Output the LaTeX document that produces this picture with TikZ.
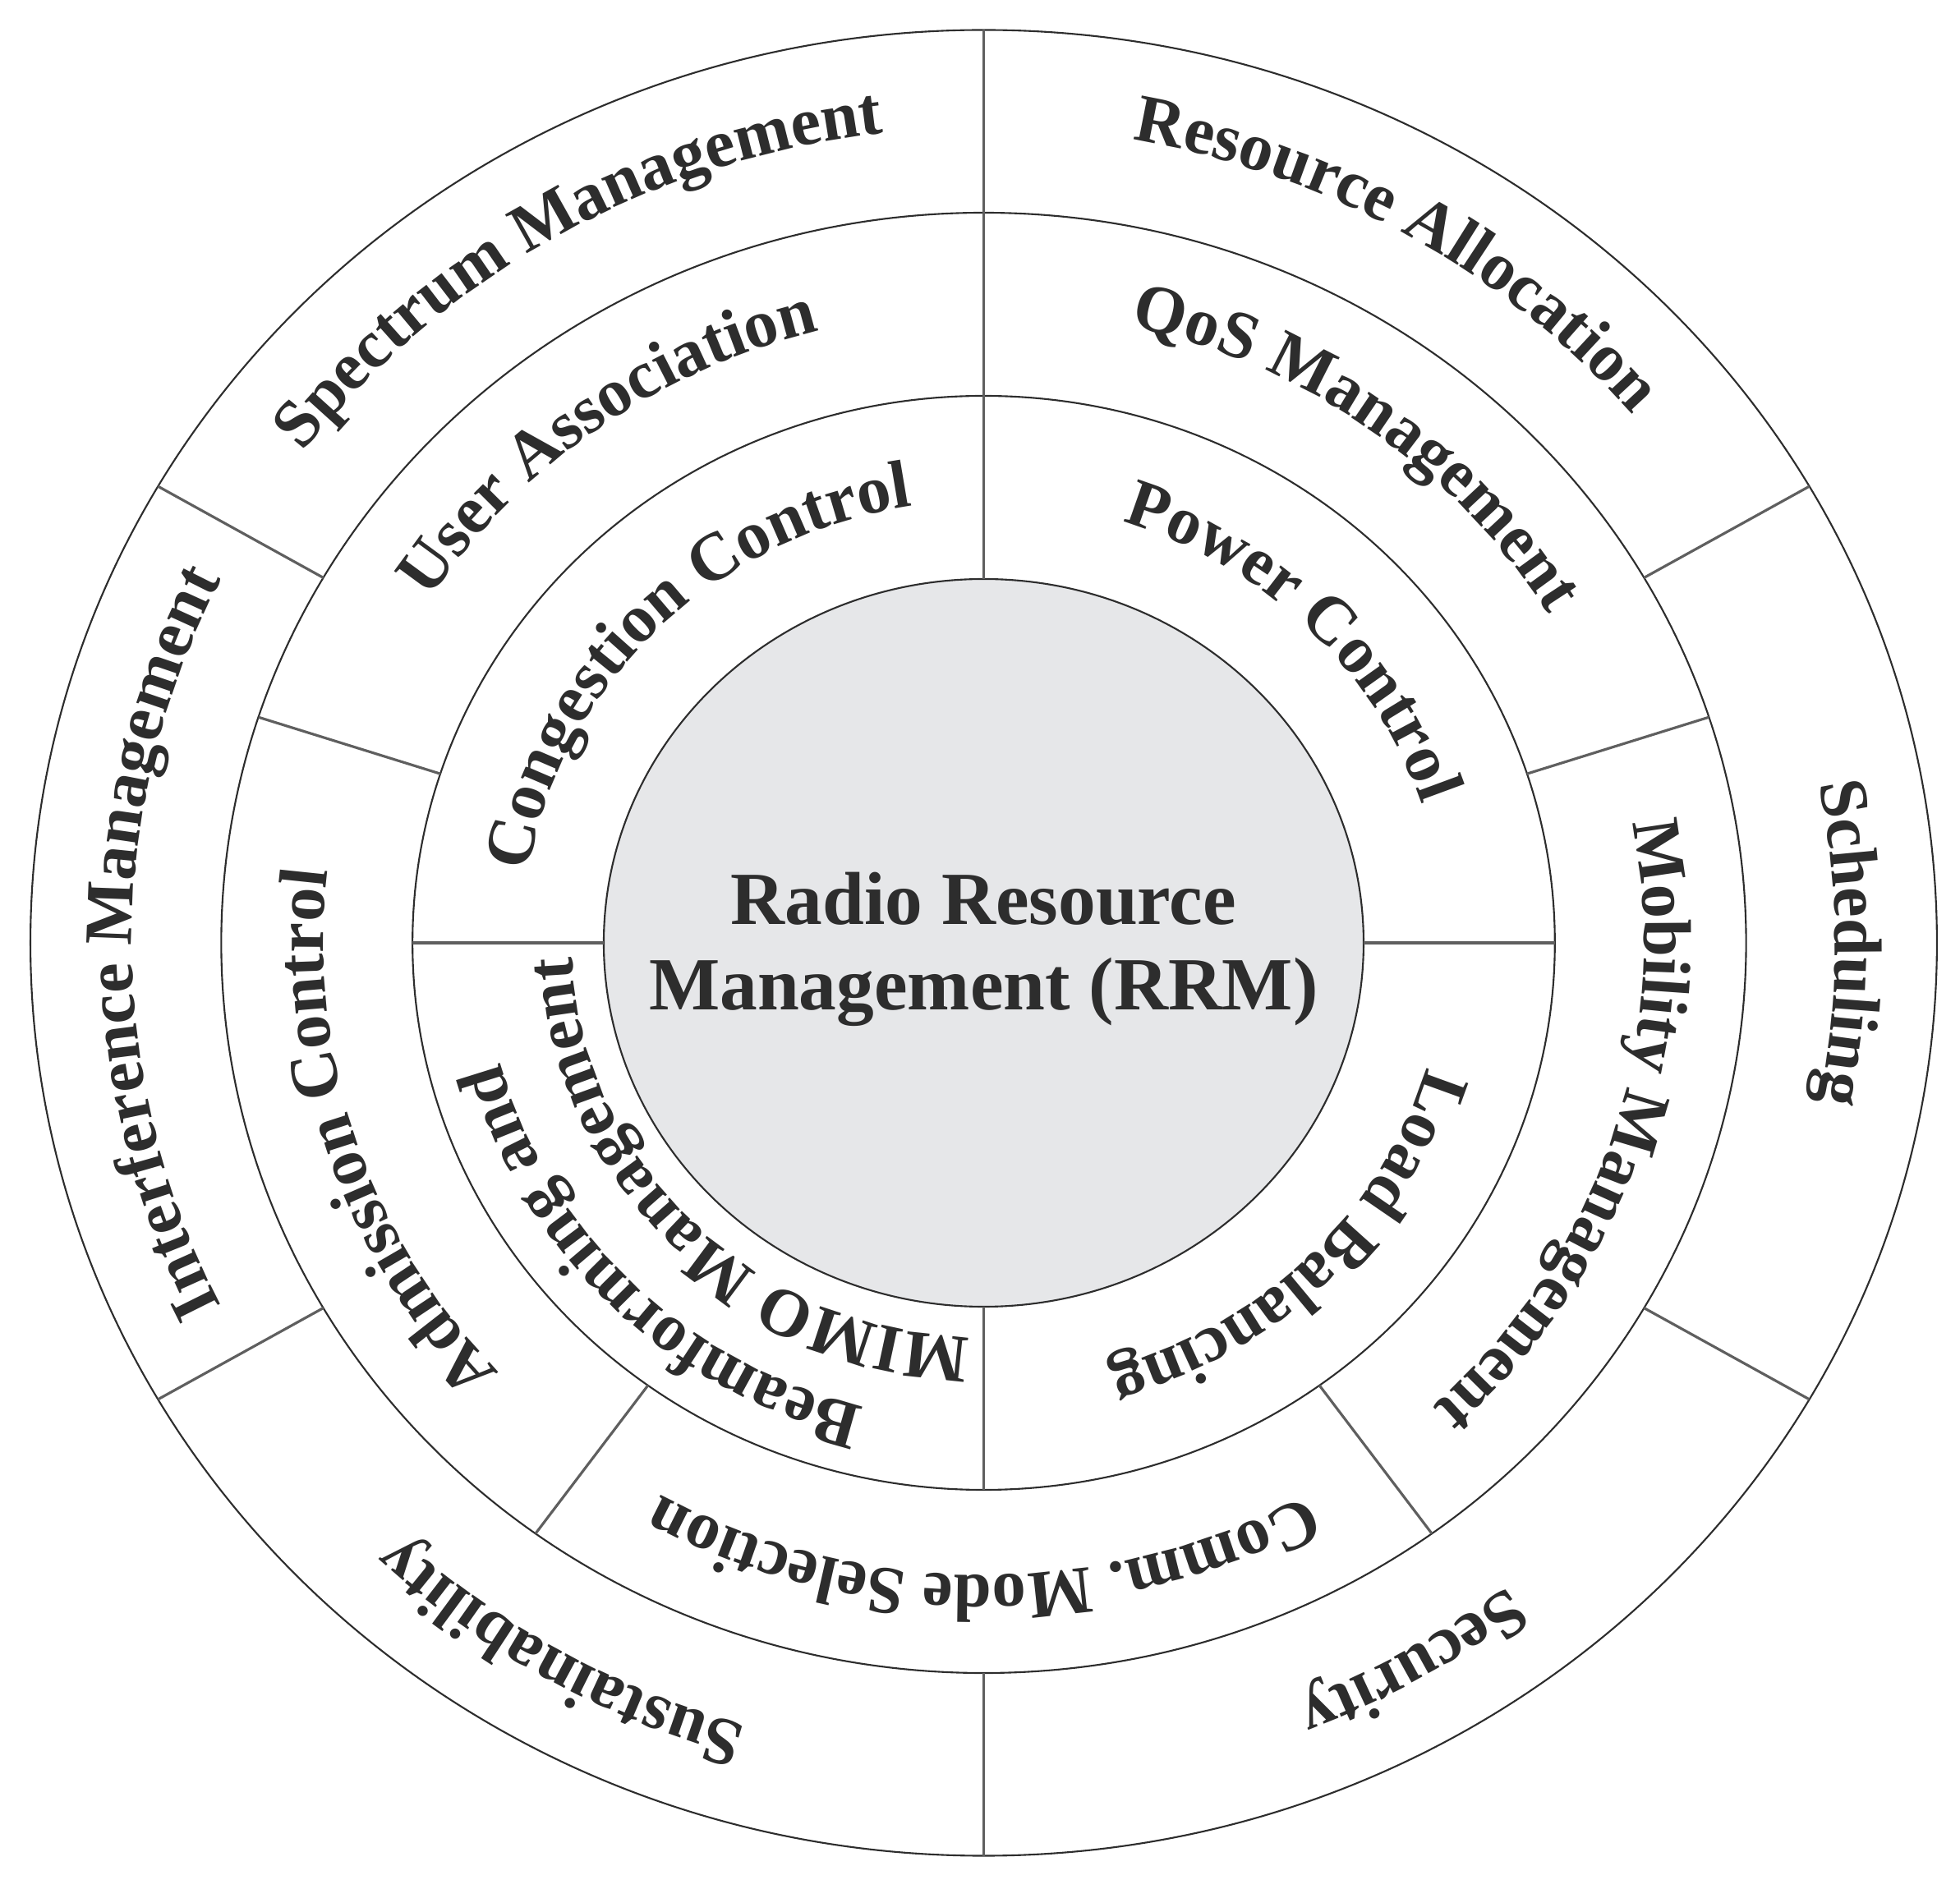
\documentclass[tikz,border=0pt]{standalone}
\usepackage{fontspec}
\setmainfont{Liberation Serif}
\usetikzlibrary{decorations.text}

\definecolor{inkgray}{RGB}{45,45,45}
\definecolor{linegray}{RGB}{95,95,95}
\definecolor{rrmfill}{RGB}{230,231,233}
\newcommand\ringfont{\bfseries\fontsize{23.5}{27}\selectfont}

\begin{document}
\begin{tikzpicture}
    [xscale=1.044,
    ringline/.style={draw=inkgray,line width=0.6pt},
    divider/.style={draw=linegray,line width=0.9pt},
    arclabel/.style={decorate,decoration={text along path,text align=center,text color=inkgray}}]
    \useasboundingbox (-11.470,-11.51) rectangle (11.384,11.48);
    % rings
    \fill[rrmfill] (0,0) circle (4.43);
    \draw[ringline] (0,0) circle (4.43);
    \draw[ringline] (0,0) circle (6.66);
    \draw[ringline] (0,0) circle (8.89);
    \draw[ringline] (0,0) circle (11.115);
    % outer ring dividers
    \draw[divider] (30:8.89) -- (30:11.115);
    \draw[divider] (90:8.89) -- (90:11.115);
    \draw[divider] (150:8.89) -- (150:11.115);
    \draw[divider] (210:8.89) -- (210:11.115);
    \draw[divider] (270:8.89) -- (270:11.115);
    \draw[divider] (330:8.89) -- (330:11.115);
    % middle ring dividers
    \draw[divider] (18:6.66) -- (18:8.89);
    \draw[divider] (90:6.66) -- (90:8.89);
    \draw[divider] (162:6.66) -- (162:8.89);
    \draw[divider] (234:6.66) -- (234:8.89);
    \draw[divider] (306:6.66) -- (306:8.89);
    % inner ring dividers
    \draw[divider] (0:4.43) -- (0:6.66);
    \draw[divider] (90:4.43) -- (90:6.66);
    \draw[divider] (180:4.43) -- (180:6.66);
    \draw[divider] (270:4.43) -- (270:6.66);
    % centre
    \node (rrm) at (0,-0.08) [align=center,text=inkgray,font=\bfseries\fontsize{26}{29.5}\selectfont]
        {Radio Resource\\Management (RRM)};
    % outer ring labels
    \path[arclabel,decoration={text={|\ringfont|Resource Allocation}}] (90:9.93) arc[start angle=90,end angle=30,radius=9.93];
    \path[arclabel,decoration={text={|\ringfont|Spectrum Management}}] (150:9.93) arc[start angle=150,end angle=90,radius=9.93];
    \path[arclabel,decoration={text={|\ringfont|Interference Management}}] (210:9.93) arc[start angle=210,end angle=150,radius=9.93];
    \path[arclabel,decoration={text={|\ringfont|Sustainability}}] (270:9.93) arc[start angle=270,end angle=210,radius=9.93];
    \path[arclabel,decoration={text={|\ringfont|Security}}] (330:9.93) arc[start angle=330,end angle=270,radius=9.93];
    \path[arclabel,decoration={text={|\ringfont|Scheduling}}] (30:9.93) arc[start angle=30,end angle=-30,radius=9.93];
    % middle ring labels
    \path[arclabel,decoration={text={|\ringfont|QoS Management}}] (90:7.70) arc[start angle=90,end angle=18,radius=7.70];
    \path[arclabel,decoration={text={|\ringfont|User Association}}] (162:7.70) arc[start angle=162,end angle=90,radius=7.70];
    \path[arclabel,decoration={text={|\ringfont|Admission Control}}] (234:7.70) arc[start angle=234,end angle=162,radius=7.70];
    \path[arclabel,decoration={text={|\ringfont|Comm. Mode Selection}}] (306:7.70) arc[start angle=306,end angle=234,radius=7.70];
    \path[arclabel,decoration={text={|\ringfont|Mobility Management}}] (18:7.70) arc[start angle=18,end angle=-54,radius=7.70];
    % inner ring labels
    \path[arclabel,decoration={text={|\ringfont|Power Control}}] (90:5.38) arc[start angle=90,end angle=0,radius=5.38];
    \path[arclabel,decoration={text={|\ringfont|Congestion Control}}] (180:5.38) arc[start angle=180,end angle=90,radius=5.38];
    \path[arclabel,decoration={text={|\ringfont|Beamforming and}}] (270:5.82) arc[start angle=270,end angle=180,radius=5.82];
    \path[arclabel,decoration={text={|\ringfont|MIMO Management}}] (270:4.80) arc[start angle=270,end angle=180,radius=4.80];
    \path[arclabel,decoration={text={|\ringfont|Load Balancing}}] (0:5.38) arc[start angle=0,end angle=-90,radius=5.38];
\end{tikzpicture}
\end{document}
